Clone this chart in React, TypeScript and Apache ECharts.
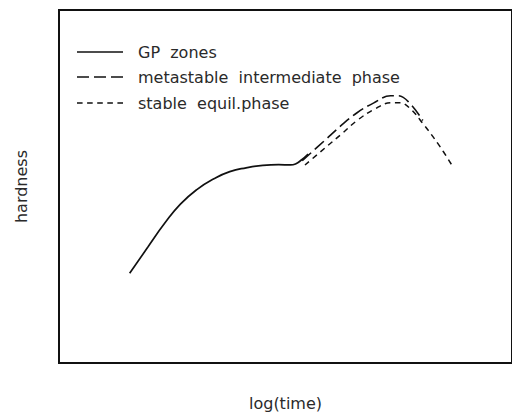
import React, { useEffect, useRef } from "react";
import * as echarts from "echarts";

const seriesNames = ["GP  zones", "metastable  intermediate  phase", "stable  equil.phase"];

// [log(time), hardness] in arbitrary units
const gpZones: [number, number][] = [
  [15.6, 25.4], [19.7, 33.0], [23.4, 39.7], [26.8, 45.0], [30.5, 49.2],
  [34.2, 52.2], [37.7, 54.2], [41.3, 55.3], [45.0, 56.0], [48.5, 56.2],
  [51.1, 56.1], [52.2, 56.4], [53.5, 57.5], [55.0, 59.2],
];
const metastable: [number, number][] = [
  [53.7, 57.3], [58.7, 63.1], [62.3, 67.3], [65.8, 70.9], [69.5, 73.7],
  [73.2, 75.7], [74.9, 75.7], [77.5, 73.5], [80.3, 68.7],
];
const stable: [number, number][] = [
  [54.3, 56.1], [58.7, 60.9], [62.3, 64.8], [65.8, 68.7], [69.5, 71.8],
  [73.2, 73.7], [75.3, 73.7], [77.5, 72.1], [80.3, 67.9], [84.0, 61.5],
  [86.8, 55.9],
];

const xName = "log(time)";
const yName = "hardness";

export default function App() {
  const ref = useRef<HTMLDivElement>(null);
  useEffect(() => {
    if (!ref.current) return;
    const chart = echarts.init(ref.current, undefined, { renderer: "svg" });
    const font = "DejaVu Sans";
    const textColor = "#2a2a2a";
    const hidden = {
      axisLine: { show: false },
      axisTick: { show: false },
      axisLabel: { show: false },
      splitLine: { show: false },
    };
    const dashes: (number[] | null)[] = [null, [12, 5], [5.6, 4.5]];
    const rowsY = [52, 77, 103];
    const legendGraphics: any[] = [];
    seriesNames.forEach((name, i) => {
      legendGraphics.push({
        type: "line",
        shape: { x1: 77, y1: rowsY[i], x2: 123, y2: rowsY[i] },
        style: { stroke: "#111", lineWidth: 1.6, lineDash: dashes[i] || undefined },
      });
      legendGraphics.push({
        type: "text",
        x: 138,
        y: rowsY[i],
        style: {
          text: name,
          fontFamily: font,
          fontSize: 16,
          fill: textColor,
          verticalAlign: "middle",
          align: "left",
        },
      });
    });
    chart.setOption({
      animation: false,
      grid: {
        show: true,
        left: 59,
        top: 10,
        right: -9,
        bottom: 48,
        borderColor: "#111",
        borderWidth: 2,
        backgroundColor: "transparent",
      },
      graphic: legendGraphics,
      xAxis: {
        type: "value",
        min: 0,
        max: 100,
        name: xName,
        nameLocation: "middle",
        nameGap: 32,
        nameTextStyle: { fontFamily: font, fontSize: 16, color: textColor },
        ...hidden,
      },
      yAxis: {
        type: "value",
        min: 0,
        max: 100,
        name: yName,
        nameLocation: "middle",
        nameGap: 30,
        nameTextStyle: { fontFamily: font, fontSize: 16, color: textColor },
        ...hidden,
      },
      series: [
        {
          name: seriesNames[0],
          type: "line",
          data: gpZones,
          smooth: 0.5,
          symbol: "none",
          lineStyle: { color: "#111", width: 1.7, type: "solid" },
        },
        {
          name: seriesNames[1],
          type: "line",
          data: metastable,
          smooth: 0.4,
          symbol: "none",
          lineStyle: { color: "#111", width: 1.6, type: [12, 5] },
        },
        {
          name: seriesNames[2],
          type: "line",
          data: stable,
          smooth: 0.4,
          symbol: "none",
          lineStyle: { color: "#111", width: 1.5, type: [5.6, 4.5] },
        },
      ],
    });
    return () => chart.dispose();
  }, []);
  return (
    <div
      ref={ref}
      style={{ position: "absolute", left: 0, top: 0, width: 512, height: 416 }}
    />
  );
}
